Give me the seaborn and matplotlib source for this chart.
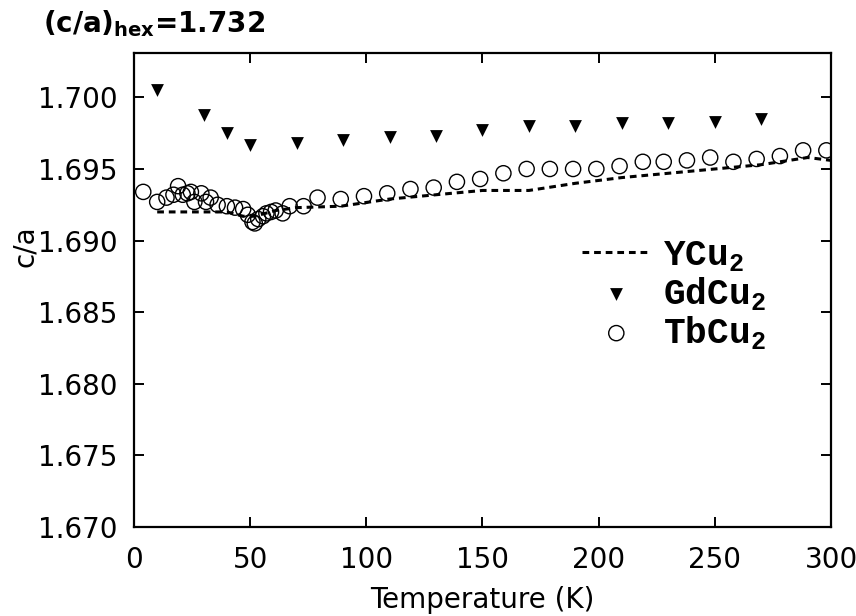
import numpy as np
import pandas as pd
import matplotlib
matplotlib.use("Agg")
import matplotlib.pyplot as plt
import seaborn as sns

# ---- data ----
ycu2_T = [10, 40, 47, 52, 61, 70, 89, 110, 130, 150, 170, 190, 210, 230, 250, 270, 290, 300]
ycu2_ca = [1.6920, 1.6920, 1.6917, 1.6917, 1.6921, 1.6923, 1.6924, 1.6929, 1.6932, 1.6935,
           1.6935, 1.6940, 1.6944, 1.6947, 1.6950, 1.6953, 1.6958, 1.6956]

gdcu2_T = [10, 30, 40, 50, 70, 90, 110, 130, 150, 170, 190, 210, 230, 250, 270]
gdcu2_ca = [1.7005, 1.6988, 1.6975, 1.6967, 1.6968, 1.6970, 1.6972, 1.6973, 1.6977,
            1.6980, 1.6980, 1.6982, 1.6982, 1.6983, 1.6985]

tbcu2_T = [4, 10, 14, 17, 19, 21, 23, 24.5, 26, 29, 31, 33, 36, 40, 43.5, 47, 49, 51, 52,
           53.5, 55.5, 57, 59, 61, 64, 67, 73, 79, 89, 99, 109, 119, 129, 139, 149, 159,
           169, 179, 189, 199, 209, 219, 228, 238, 248, 258, 268, 278, 288, 298]
tbcu2_ca = [1.6934, 1.6927, 1.6930, 1.6932, 1.6938, 1.6932, 1.6933, 1.6934, 1.6927, 1.6933,
            1.6927, 1.6930, 1.6925, 1.6924, 1.6923, 1.6922, 1.6918, 1.6913, 1.6912,
            1.6915, 1.6917, 1.6919, 1.6920, 1.6921, 1.6919, 1.6924, 1.6924, 1.6930,
            1.6929, 1.6931, 1.6933, 1.6936, 1.6937, 1.6941, 1.6943, 1.6947, 1.6950,
            1.6950, 1.6950, 1.6950, 1.6952, 1.6955, 1.6955, 1.6956, 1.6958, 1.6955,
            1.6957, 1.6959, 1.6963, 1.6963]

x_ticks = [0, 50, 100, 150, 200, 250, 300]
y_ticks = [1.670, 1.675, 1.680, 1.685, 1.690, 1.695, 1.700]

# ---- style ----
sns.set_theme(style="ticks")
plt.rcParams["font.family"] = ["DejaVu Sans"]
plt.rcParams["mathtext.fontset"] = "custom"
plt.rcParams["mathtext.rm"] = "Liberation Mono:bold"
plt.rcParams["mathtext.bf"] = "DejaVu Sans:bold"
for key in ["text.color", "axes.labelcolor", "xtick.color", "ytick.color", "axes.edgecolor"]:
    plt.rcParams[key] = "black"

df_y = pd.DataFrame({"T": ycu2_T, "ca": ycu2_ca})
df_gd = pd.DataFrame({"T": gdcu2_T, "ca": gdcu2_ca})
df_tb = pd.DataFrame({"T": tbcu2_T, "ca": tbcu2_ca})

fig = plt.figure(figsize=(8.56, 6.16), dpi=100)
ax = fig.add_axes([0.1565, 0.1445, 0.8143, 0.7695])

sns.lineplot(data=df_y, x="T", y="ca", ax=ax, color="black", lw=2.2,
             linestyle=(0, (2.2, 1.6)), label="YCu$_2$")
sns.scatterplot(data=df_gd, x="T", y="ca", ax=ax, marker="v", s=85,
                color="black", edgecolor="black", linewidth=0, label="GdCu$_2$")
sns.scatterplot(data=df_tb, x="T", y="ca", ax=ax, marker="o", s=120,
                facecolor="none", edgecolor="black", linewidth=1.0, label="TbCu$_2$")

ax.set_xlim(0, 300)
ax.set_ylim(1.670, 1.7031)
ax.set_xticks(x_ticks)
ax.set_yticks(y_ticks)
ax.set_yticklabels([f"{v:.3f}" for v in y_ticks])
ax.tick_params(direction="in", length=7, width=1.4, labelsize=20,
               top=True, right=True)
ax.tick_params(axis="y", pad=12)
ax.tick_params(axis="x", pad=14)
for sp in ax.spines.values():
    sp.set_linewidth(1.6)

ax.set_xlabel("Temperature (K)", fontsize=20, labelpad=8)
ax.set_ylabel("")
fig.text(0.029, 0.60, "c/a", rotation=90, fontsize=20, ha="center", va="center")
fig.text(0.05, 0.962, "(c/a)$_\\mathbf{hex}$=1.732", fontsize=20, fontweight="bold",
         ha="left", va="center")

leg = ax.legend(loc="upper left", bbox_to_anchor=(582 / 856, 1 - 238 / 616),
                bbox_transform=fig.transFigure, frameon=False,
                prop={"family": "Liberation Mono", "weight": "bold", "size": 26},
                handlelength=1.9, labelspacing=0.05, handletextpad=0.35,
                borderpad=0, borderaxespad=0, markerscale=1.0)

fig.savefig("out.png", dpi=100)
